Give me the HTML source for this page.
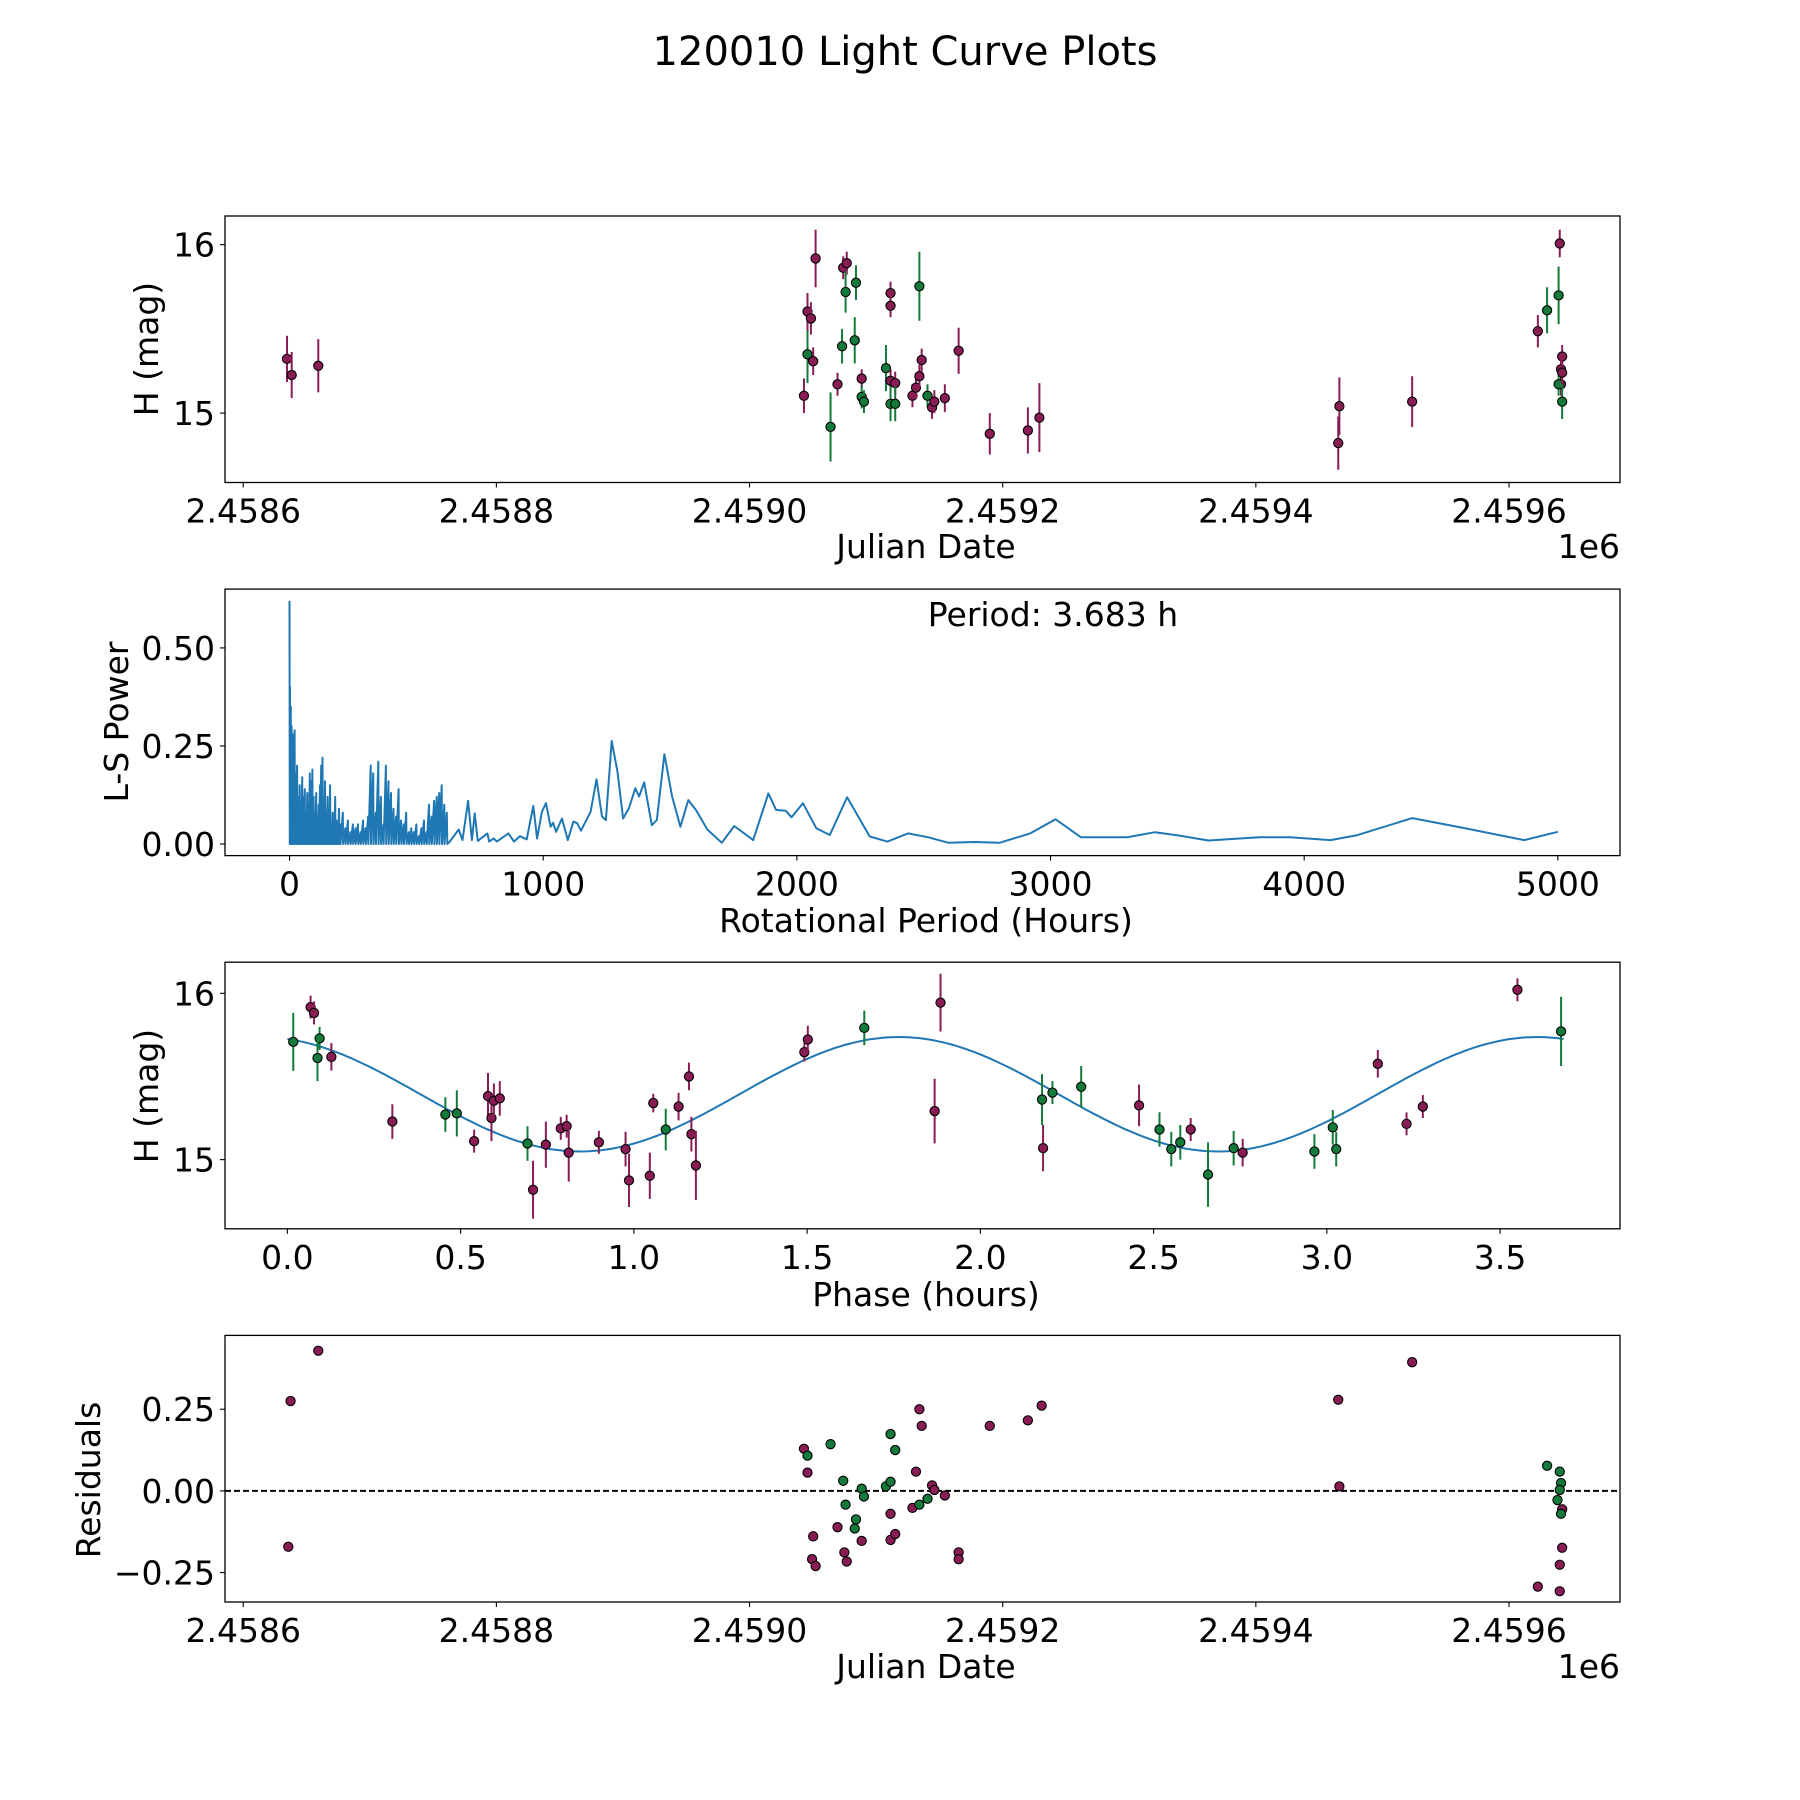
<!DOCTYPE html>
<html><head><meta charset="utf-8"><style>
html,body{margin:0;padding:0;background:#fff;}
svg{display:block;font-family:"DejaVu Sans","Liberation Sans",sans-serif;}
</style></head><body>
<svg id="fig" width="1800" height="1800" viewBox="0 0 1800 1800" xmlns="http://www.w3.org/2000/svg">
<rect width="1800" height="1800" fill="#fff"/>
<text x="905" y="65" font-size="40" text-anchor="middle">120010 Light Curve Plots</text>
</svg>
<script>
// ---- data: light curve (panel 1) ----
const lcJD=[2458634.6,2458638.3,2458659.3,2459043.0,2459045.8,2459045.8,2459048.5,2459050.3,2459052.2,2459064.0,2459069.5,2459073.1,2459074.0,2459076.8,2459075.9,2459083.1,2459084.1,2459088.6,2459088.6,2459090.4,2459107.8,2459111.4,2459111.4,2459111.4,2459111.4,2459115.1,2459115.1,2459128.7,2459131.5,2459134.2,2459136.0,2459134.2,2459140.6,2459144.2,2459146.0,2459154.3,2459165.2,2459189.8,2459219.9,2459229.0,2459465.1,2459466.0,2459523.5,2459622.8,2459630.1,2459640.1,2459639.2,2459642.0,2459641.1,2459641.1,2459639.2,2459642.0,2459642.0];
const lcMag=[15.322,15.226,15.281,15.103,15.349,15.603,15.562,15.308,15.918,14.918,15.171,15.397,15.863,15.890,15.719,15.432,15.774,15.205,15.096,15.068,15.267,15.712,15.637,15.192,15.055,15.178,15.055,15.103,15.151,15.219,15.315,15.753,15.103,15.034,15.068,15.089,15.370,14.877,14.897,14.973,14.822,15.041,15.068,15.486,15.610,16.007,15.699,15.336,15.260,15.171,15.171,15.068,15.240];
const lcErr=[.137,.137,.158,.103,.171,.11,.096,.082,.171,.205,.068,.103,.068,.068,.123,.137,.103,.055,.068,.068,.137,.068,.068,.068,.103,.068,.103,.068,.068,.068,.068,.205,.068,.068,.068,.082,.137,.123,.137,.205,.158,.171,.151,.096,.137,.082,.171,.068,.068,.068,.068,.103,.068];
const lcBand=["m","m","m","m","g","m","m","m","m","g","m","g","m","m","g","g","g","m","g","g","g","m","m","m","g","m","g","m","m","m","m","g","g","m","m","m","m","m","m","m","m","m","m","m","g","m","g","m","m","m","g","g","m"];
// ---- data: periodogram (panel 2) ----
const lsPeriod=[0,1,2,3,5,6,8,9,12,13,16,17,20,21,25,26,30,31,35,36,40,41,45,46,50,51,55,56,60,61,65,66,70,71,75,76,80,81,85,86,90,91,95,96,100,101,105,106,110,111,115,116,120,121,125,126,130,131,135,136,140,141,145,146,150,151,155,156,160,161,165,166,170,171,175,176,180,181,185,186,190,191,195,196,200,201,210,211,220,221,230,231,240,241,250,251,260,261,270,271,280,281,290,291,300,301,310,311,320,321,330,331,340,341,350,351,360,361,370,371,380,381,390,391,400,401,410,411,420,421,430,431,440,441,450,451,460,461,470,471,480,481,490,491,500,501,510,511,520,521,530,531,540,541,550,551,560,561,570,571,580,581,590,591,600,601,610,611,620,622,632,667,682,704,719,730,742,780,787,805,817,863,885,908,935,961,976,995,1011,1029,1039,1051,1074,1097,1119,1134,1149,1164,1187,1210,1232,1247,1270,1293,1315,1338,1363,1378,1398,1428,1448,1478,1508,1541,1572,1602,1647,1704,1753,1828,1888,1918,1956,1979,2024,2077,2130,2198,2250,2287,2357,2438,2518,2598,2699,2799,2920,3020,3120,3301,3412,3502,3622,3823,3944,4104,4205,4426,4627,4867,5000];
const lsPower=[0.62,0,0.4,0,0.35,0,0.3,0,0.28,0,0.2,0,0.29,0,0.18,0,0.2,0,0.12,0,0.15,0,0.1,0,0.17,0,0.12,0,0.14,0,0.08,0,0.13,0,0.1,0,0.18,0,0.16,0,0.19,0,0.12,0,0.08,0,0.13,0,0.07,0,0.1,0,0.15,0,0.2,0,0.22,0,0.1,0,0.16,0,0.08,0,0.12,0,0.06,0,0.15,0,0.05,0,0.08,0,0.05,0,0.12,0,0.06,0,0.04,0,0.09,0,0.05,0,0.08,0,0.04,0,0.06,0,0.03,0,0.05,0,0.04,0,0.05,0,0.03,0,0.06,0,0.04,0,0.07,0,0.2,0,0.18,0,0.08,0,0.21,0,0.12,0,0.05,0,0.2,0,0.16,0,0.13,0,0.09,0,0.07,0,0.14,0,0.06,0,0.05,0,0.08,0,0.03,0,0.04,0,0.03,0,0.05,0,0.02,0,0.04,0,0.06,0,0.03,0,0.1,0,0.07,0,0.11,0,0.12,0,0.13,0,0.15,0,0.1,0,0.08,0,0.006,0.037,0.01,0.11,0.01,0.078,0.008,0.027,0.006,0.014,0.006,0.027,0.006,0.02,0.012,0.097,0.014,0.082,0.104,0.044,0.054,0.031,0.065,0.01,0.057,0.053,0.034,0.053,0.082,0.165,0.07,0.061,0.263,0.184,0.065,0.091,0.142,0.121,0.157,0.048,0.061,0.229,0.121,0.044,0.112,0.087,0.037,0.003,0.046,0.01,0.129,0.087,0.085,0.068,0.104,0.04,0.023,0.119,0.061,0.019,0.006,0.027,0.017,0.003,0.005,0.003,0.027,0.063,0.017,0.017,0.030,0.022,0.009,0.017,0.017,0.010,0.022,0.066,0.041,0.010,0.031];
const bestPeriod=["3.683"];
// ---- data: phased (panel 3) ----
const phPhase=[.017,.067,.077,.093,.087,.127,.303,.456,.489,.539,.579,.589,.596,.613,.693,.709,.746,.789,.806,.812,.899,.976,.986,1.046,1.056,1.092,1.129,1.159,1.166,1.179,1.492,1.502,1.665,1.868,1.885,2.178,2.181,2.208,2.291,2.458,2.517,2.551,2.577,2.607,2.657,2.731,2.757,2.964,3.017,3.027,3.147,3.230,3.277,3.550,3.676];
const phMag=[15.708,15.917,15.882,15.729,15.611,15.618,15.229,15.271,15.278,15.111,15.382,15.25,15.354,15.368,15.097,14.819,15.090,15.188,15.201,15.042,15.104,15.063,14.875,14.903,15.340,15.181,15.319,15.5,15.153,14.965,15.646,15.722,15.792,15.292,15.944,15.361,15.069,15.403,15.438,15.326,15.181,15.063,15.104,15.181,14.910,15.069,15.042,15.049,15.194,15.063,15.576,15.215,15.319,16.021,15.771];
const phErr=[.174,.069,.069,.069,.139,.083,.104,.104,.139,.069,.139,.139,.104,.104,.104,.174,.139,.069,.069,.174,.069,.104,.160,.139,.056,.125,.083,.083,.104,.208,.056,.083,.104,.194,.174,.153,.139,.069,.125,.125,.104,.104,.104,.069,.194,.104,.083,.104,.104,.104,.083,.069,.069,.069,.208];
const phBand=["g","m","m","g","g","m","m","g","g","m","m","m","m","m","g","m","m","m","m","m","m","m","m","m","m","g","m","m","m","m","m","m","g","m","m","g","m","g","g","m","g","g","g","m","g","g","m","g","g","g","m","m","m","m","g"];
const fitParams=[15.393,0.344,1.765,3.683]; // mean, amplitude, peak phase, period
// ---- data: residuals (panel 4) ----
const resJD=[2458637.4,2458659.3,2458635.6,2459043.0,2459045.8,2459045.8,2459050.3,2459049.4,2459052.2,2459064.0,2459069.5,2459074.0,2459075.9,2459074.9,2459076.8,2459084.1,2459083.1,2459088.6,2459088.6,2459090.4,2459107.8,2459111.4,2459111.4,2459111.4,2459111.4,2459115.1,2459115.1,2459128.7,2459131.5,2459134.2,2459134.2,2459136.0,2459140.6,2459144.2,2459146.0,2459154.3,2459165.2,2459165.2,2459189.8,2459219.9,2459230.8,2459465.1,2459466.0,2459523.5,2459622.8,2459630.1,2459640.1,2459641.1,2459640.1,2459638.3,2459642.0,2459641.1,2459642.0,2459640.1,2459640.1];
const resVal=[.275,.429,-.171,.129,.108,.056,-.139,-.209,-.230,.143,-.111,.031,-.042,-.188,-.216,-.087,-.115,-.153,.007,-.017,.014,.174,.028,-.070,-.150,.125,-.132,-.052,.059,-.042,.25,.199,-.024,.017,.003,-.014,-.188,-.209,.199,.216,.261,.279,.014,.394,-.293,.077,.059,.024,.003,-.028,-.056,-.070,-.174,-.226,-.307];
const resBand=["m","m","m","m","g","m","m","m","m","g","m","g","g","m","m","g","g","m","g","g","g","g","g","m","m","g","m","m","m","g","m","m","g","m","m","m","m","m","m","m","m","m","m","m","m","g","g","g","g","g","m","g","m","m","m"];
const jdTicks=[2458600,2458800,2459000,2459200,2459400,2459600];
const jdTickLabels=["2.4586","2.4588","2.4590","2.4592","2.4594","2.4596"];
const magTicks=[15,16];
const lsXTicks=[0,1000,2000,3000,4000,5000];
const lsYTicks=[0,0.25,0.5];
const lsYTickLabels=["0.00","0.25","0.50"];
const phTicks=[0,0.5,1,1.5,2,2.5,3,3.5];
const phTickLabels=["0.0","0.5","1.0","1.5","2.0","2.5","3.0","3.5"];
const resTicks=[-0.25,0,0.25];
const resTickLabels=["\u22120.25","0.00","0.25"];

const NS="http://www.w3.org/2000/svg";
const svg=document.getElementById('fig');
const COL={m:"#8a1c55",g:"#137a3a"};
const FS=33;
function el(tag,attrs,parent){const e=document.createElementNS(NS,tag);for(const k in attrs)e.setAttribute(k,attrs[k]);(parent||svg).appendChild(e);return e;}
function lin(d0,d1,p0,p1){return v=>p0+(v-d0)*(p1-p0)/(d1-d0);}
const L=225,R=1620;
function axes(name,top,bot,xd,yd){
  const g=el('g',{});
  
  
  return {g,top,bot,x:lin(xd[0],xd[1],L,R),y:lin(yd[0],yd[1],bot,top)};
}
function frame(a){
  const r=el('rect',{x:L,y:a.top,width:R-L,height:a.bot-a.top,fill:'none',stroke:'#000','stroke-width':1.3},a.g);
  
  
}
function xticks(a,vals,labels,name){
  vals.forEach((v,i)=>{const px=a.x(v);
    el('line',{x1:px,x2:px,y1:a.bot,y2:a.bot+5,stroke:'#000','stroke-width':1.1},a.g);
    const t=el('text',{x:px,y:a.bot+40,'font-size':FS,'text-anchor':'middle'},a.g);t.textContent=labels[i];
    
    });
}
function yticks(a,vals,labels,name){
  vals.forEach((v,i)=>{const py=a.y(v);
    el('line',{x1:L-5,x2:L,y1:py,y2:py,stroke:'#000','stroke-width':1.1},a.g);
    const t=el('text',{x:L-10,y:py+12,'font-size':FS,'text-anchor':'end'},a.g);t.textContent=labels[i];
    
    });
}
function label(a,txt,x,y,rot,name,anchor){
  const t=el('text',{x:x,y:y,'font-size':FS,'text-anchor':anchor||'middle'},a.g);
  if(rot)t.setAttribute('transform',`rotate(-90 ${x} ${y})`);
  t.textContent=txt;
  
  
}
function dots(a,xs,ys,errs,bands,name){
  xs.forEach((xv,i)=>{const px=a.x(xv),py=a.y(ys[i]);const c=COL[bands[i]];
    if(errs){const l=el('line',{x1:px,x2:px,y1:a.y(ys[i]+errs[i]),y2:a.y(ys[i]-errs[i]),stroke:c,'stroke-width':2},a.g);
      
      }
    const d=el('circle',{cx:px,cy:py,r:4.6,fill:c,stroke:'#000','stroke-width':1.1},a.g);
    
    });
}
const JDD=[2458585.6,2459687.7];
// Panel 1
const a1=axes('light-curve-panel',216,482.5,JDD,[14.588,16.17]);
dots(a1,lcJD,lcMag,lcErr,lcBand,'observation-point');
frame(a1);xticks(a1,jdTicks,jdTickLabels,'x-tick-label');yticks(a1,magTicks,["15","16"],'y-tick-label');
label(a1,'Julian Date',926,558,false,'x-axis-title');label(a1,'1e6',R,558,false,'x-offset-label','end');
label(a1,'H (mag)',158,349,true,'y-axis-title');
// Panel 2
const a2=axes('periodogram-panel',589.1,855.6,[-254.4,5245],[-0.0296,0.65]);
const pts=lsPeriod.map((p,i)=>a2.x(p).toFixed(1)+','+a2.y(lsPower[i]).toFixed(1)).join(' ');
const pl=el('polyline',{points:pts,fill:'none',stroke:'#1f77b4','stroke-width':2,'stroke-linejoin':'round'},a2.g);


frame(a2);xticks(a2,lsXTicks,lsXTicks.map(String),'x-tick-label');yticks(a2,lsYTicks,lsYTickLabels,'y-tick-label');
label(a2,'Period: '+bestPeriod[0]+' h',1053,626,false,'period-annotation');
label(a2,'Rotational Period (Hours)',926,932,false,'x-axis-title');
label(a2,'L-S Power',128,722,true,'y-axis-title');
// Panel 3
const a3=axes('phased-light-curve-panel',962.2,1228.8,[-0.18,3.846],[14.584,16.187]);
const cp=[];for(let i=0;i<=300;i++){const p=fitParams[3]*i/300;const m=fitParams[0]+fitParams[1]*Math.cos(2*Math.PI*2*(p-fitParams[2])/fitParams[3]);cp.push(a3.x(p).toFixed(1)+','+a3.y(m).toFixed(1));}
const fl=el('polyline',{points:cp.join(' '),fill:'none',stroke:'#1f77b4','stroke-width':2},a3.g);


dots(a3,phPhase,phMag,phErr,phBand,'phased-point');
frame(a3);xticks(a3,phTicks,phTickLabels,'x-tick-label');yticks(a3,magTicks,["15","16"],'y-tick-label');
label(a3,'Phase (hours)',926,1306,false,'x-axis-title');
label(a3,'H (mag)',158,1096,true,'y-axis-title');
// Panel 4
const a4=axes('residuals-panel',1335.4,1602,JDD,[-0.34,0.476]);
const zl=el('line',{x1:L,x2:R,y1:a4.y(0),y2:a4.y(0),stroke:'#000','stroke-width':2,'stroke-dasharray':'6,3'},a4.g);


dots(a4,resJD,resVal,null,resBand,'residual-point');
frame(a4);xticks(a4,jdTicks,jdTickLabels,'x-tick-label');yticks(a4,resTicks,resTickLabels,'y-tick-label');
label(a4,'Julian Date',926,1678,false,'x-axis-title');label(a4,'1e6',R,1678,false,'x-offset-label','end');
label(a4,'Residuals',100,1480,true,'y-axis-title');
</script>
</body></html>
